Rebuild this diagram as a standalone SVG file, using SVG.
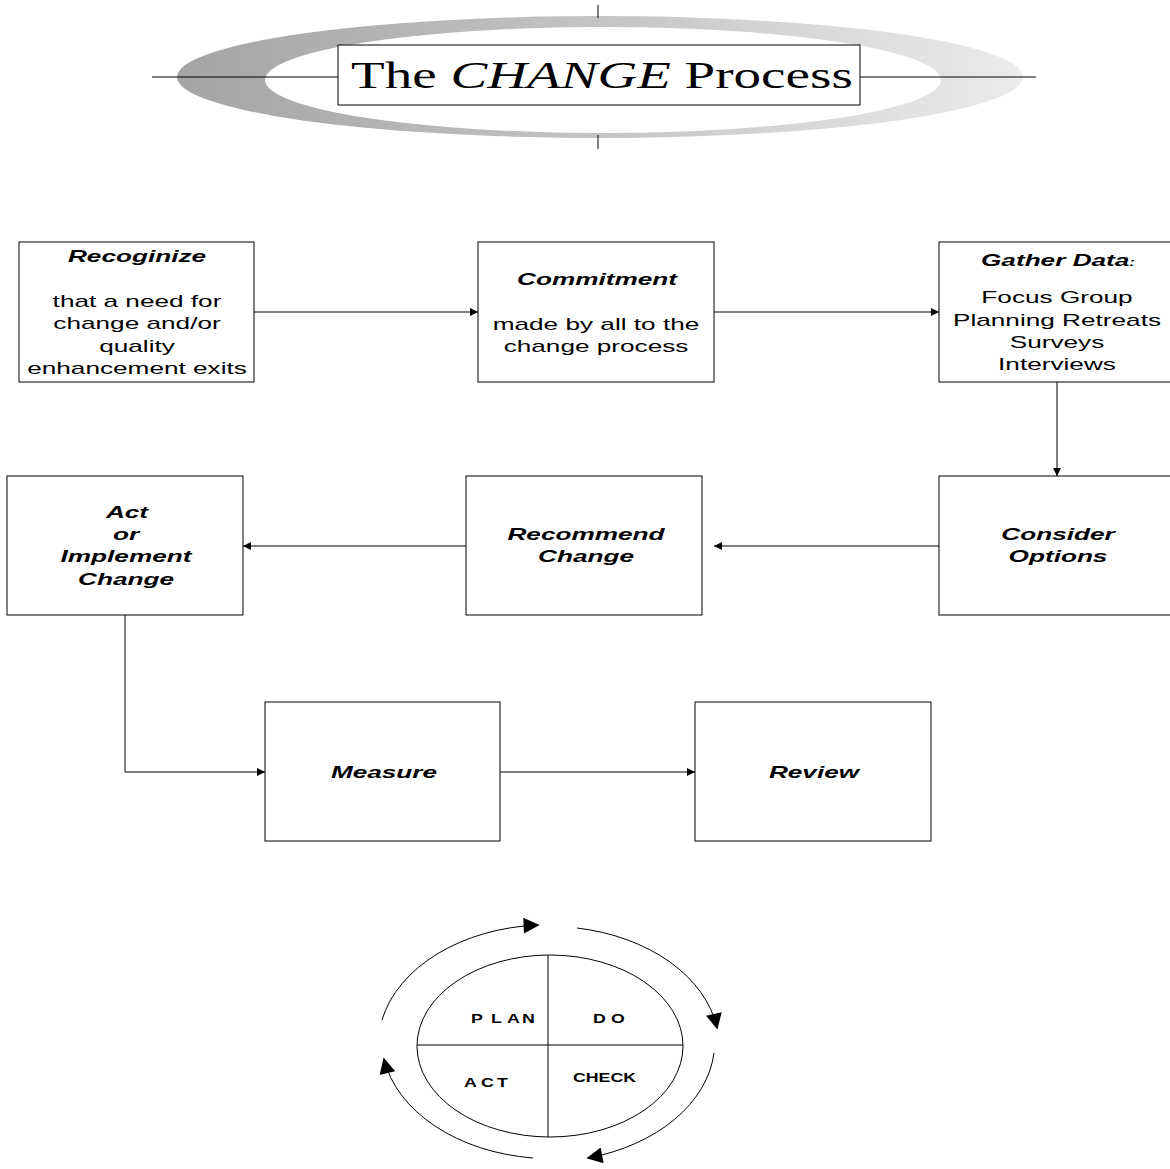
<svg xmlns="http://www.w3.org/2000/svg" width="1170" height="1169" viewBox="0 0 1170 1169">
<style>
.box{fill:#fff;stroke:#000;stroke-width:1}
.ln{fill:none;stroke:#000;stroke-width:1}
.hd{font-family:"Liberation Sans",Arial,sans-serif;font-weight:bold;font-style:italic;font-size:17px;text-anchor:middle}
.bd{font-family:"Liberation Sans",Arial,sans-serif;font-size:17px;text-anchor:middle}
.pd{font-family:"Liberation Sans",Arial,sans-serif;font-weight:bold;font-size:12.5px}
</style>
<defs>
<marker id="ah" viewBox="0 0 10 10" refX="10" refY="5" markerWidth="11" markerHeight="8" markerUnits="userSpaceOnUse" orient="auto">
<path d="M0,0 L10,5 L0,10 z" fill="#000"/>
</marker>
<marker id="bh" viewBox="0 0 10 10" refX="9" refY="5" markerWidth="20" markerHeight="16" markerUnits="userSpaceOnUse" orient="auto">
<path d="M0,0 L10,5 L0,10 z" fill="#000"/>
</marker>
<linearGradient id="g" x1="0" y1="0" x2="1" y2="0">
<stop offset="0" stop-color="#a4a4a4"/>
<stop offset="0.5" stop-color="#c4c4c4"/>
<stop offset="1" stop-color="#ececec"/>
</linearGradient>
</defs>
<g id="title">
<ellipse cx="600" cy="77" rx="423" ry="61" fill="url(#g)"/>
<ellipse cx="603" cy="80" rx="338" ry="53" fill="#fff"/>
<line class="ln" x1="152" y1="77" x2="338" y2="77"/>
<line class="ln" x1="860" y1="77" x2="1036" y2="77"/>
<line class="ln" x1="598" y1="5" x2="598" y2="18"/>
<line class="ln" x1="598" y1="135" x2="598" y2="149"/>
<rect class="box" x="338" y="45" width="522" height="60"/>
<text transform="translate(602,88) scale(1.45,1)" text-anchor="middle" font-family="'Liberation Serif','Times New Roman',serif" font-size="38">The <tspan font-style="italic">CHANGE</tspan> Process</text>
</g>
<g id="connectors">
<line class="ln" x1="254" y1="312" x2="478" y2="312" marker-end="url(#ah)"/>
<line class="ln" x1="714" y1="312" x2="939" y2="312" marker-end="url(#ah)"/>
<line class="ln" x1="1057" y1="382" x2="1057" y2="476" marker-end="url(#ah)"/>
<line class="ln" x1="939" y1="546" x2="714" y2="546" marker-end="url(#ah)"/>
<line class="ln" x1="466" y1="546" x2="243" y2="546" marker-end="url(#ah)"/>
<polyline class="ln" points="125,615 125,772 265,772" marker-end="url(#ah)"/>
<line class="ln" x1="500" y1="772" x2="695" y2="772" marker-end="url(#ah)"/>
</g>
<g id="recognize">
<rect class="box" x="19" y="242" width="235" height="140"/>
<text class="hd" transform="translate(137,262) scale(1.54,1)">Recoginize</text>
<text class="bd" transform="translate(137,307) scale(1.54,1)">that a need for</text>
<text class="bd" transform="translate(137,329) scale(1.54,1)">change and/or</text>
<text class="bd" transform="translate(137,352) scale(1.54,1)">quality</text>
<text class="bd" transform="translate(137,374) scale(1.54,1)">enhancement exits</text>
</g>
<g id="commitment">
<rect class="box" x="478" y="242" width="236" height="140"/>
<text class="hd" transform="translate(597,285) scale(1.54,1)">Commitment</text>
<text class="bd" transform="translate(596,330) scale(1.54,1)">made by all to the</text>
<text class="bd" transform="translate(596,352) scale(1.54,1)">change process</text>
</g>
<g id="gather">
<rect class="box" x="939" y="242" width="235" height="140"/>
<text class="hd" transform="translate(1058,266) scale(1.54,1)">Gather Data<tspan font-size="11">:</tspan></text>
<text class="bd" transform="translate(1057,303) scale(1.54,1)">Focus Group</text>
<text class="bd" transform="translate(1057,326) scale(1.54,1)">Planning Retreats</text>
<text class="bd" transform="translate(1057,348) scale(1.54,1)">Surveys</text>
<text class="bd" transform="translate(1057,370) scale(1.54,1)">Interviews</text>
</g>
<g id="consider">
<rect class="box" x="939" y="476" width="235" height="139"/>
<text class="hd" transform="translate(1058,540) scale(1.54,1)">Consider</text>
<text class="hd" transform="translate(1058,562) scale(1.54,1)">Options</text>
</g>
<g id="recommend">
<rect class="box" x="466" y="476" width="236" height="139"/>
<text class="hd" transform="translate(586,540) scale(1.54,1)">Recommend</text>
<text class="hd" transform="translate(586,562) scale(1.54,1)">Change</text>
</g>
<g id="act">
<rect class="box" x="7" y="476" width="236" height="139"/>
<text class="hd" transform="translate(127,518) scale(1.54,1)">Act</text>
<text class="hd" transform="translate(126,540) scale(1.54,1)">or</text>
<text class="hd" transform="translate(126,562) scale(1.54,1)">Implement</text>
<text class="hd" transform="translate(126,585) scale(1.54,1)">Change</text>
</g>
<g id="measure">
<rect class="box" x="265" y="702" width="235" height="139"/>
<text class="hd" transform="translate(384,778) scale(1.54,1)">Measure</text>
</g>
<g id="review">
<rect class="box" x="695" y="702" width="236" height="139"/>
<text class="hd" transform="translate(814,778) scale(1.54,1)">Review</text>
</g>
<g id="pdca">
<ellipse class="ln" cx="550" cy="1046" rx="133" ry="91"/>
<line class="ln" x1="548" y1="955" x2="548" y2="1137"/>
<line class="ln" x1="417" y1="1045" x2="683" y2="1045"/>
<text class="pd" transform="translate(471,1023) scale(1.42,1)">P</text>
<text class="pd" transform="translate(491,1023) scale(1.42,1)">L</text>
<text class="pd" transform="translate(507,1023) scale(1.42,1)">A</text>
<text class="pd" transform="translate(522,1023) scale(1.42,1)">N</text>
<text class="pd" transform="translate(593,1023) scale(1.42,1)">D</text>
<text class="pd" transform="translate(611,1023) scale(1.42,1)">O</text>
<text class="pd" transform="translate(464,1087) scale(1.42,1)">A</text>
<text class="pd" transform="translate(481,1087) scale(1.42,1)">C</text>
<text class="pd" transform="translate(497,1087) scale(1.42,1)">T</text>
<text class="pd" transform="translate(573,1082) scale(1.42,1)">CHECK</text>
<path class="ln" d="M382,1020 A170,120 0 0 1 538,925" marker-end="url(#bh)"/>
<path class="ln" d="M577,928 A170,120 0 0 1 717,1028" marker-end="url(#bh)"/>
<path class="ln" d="M714,1053 A170,120 0 0 1 588,1158" marker-end="url(#bh)"/>
<path class="ln" d="M533,1158 A170,120 0 0 1 384,1059" marker-end="url(#bh)"/>
</g>
</svg>
